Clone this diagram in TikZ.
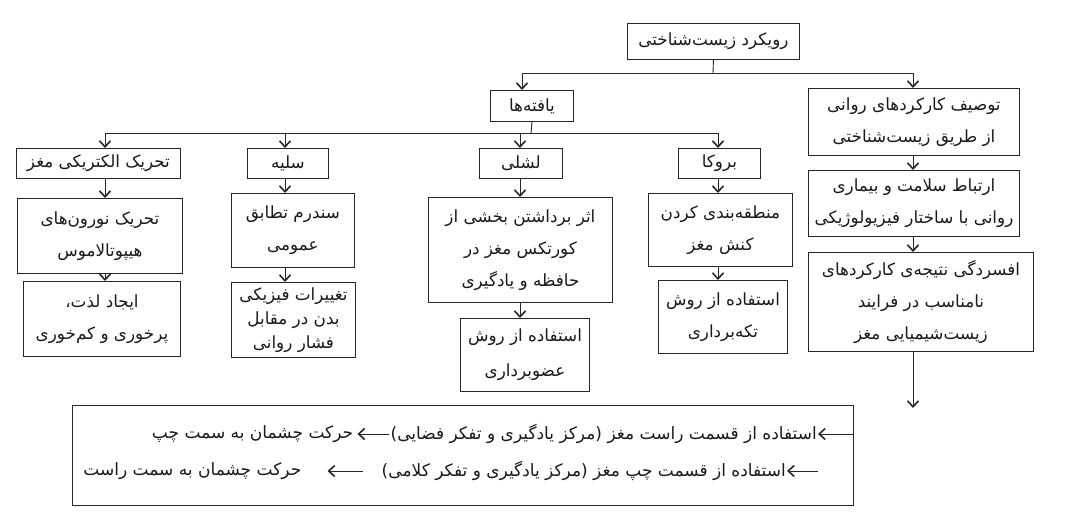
\documentclass[tikz,border=0pt]{standalone}
\usepackage{fontspec}
\newfontfamily\arabicfont[Script=Arabic]{DejaVu Sans}
\TeXXeTstate=1
\usetikzlibrary{arrows.meta}
\newcommand\fa[1]{\beginR #1\endR}
\definecolor{linec}{HTML}{262626}
\definecolor{txtc}{HTML}{1A1A1A}
\begin{document}
\begin{tikzpicture}[x=1pt,y=-1pt,
  box/.style={draw=linec, line width=0.9pt, font=\arabicfont\fontsize{16.8}{32}\selectfont,
    align=center, inner sep=0pt, anchor=north west, text=txtc},
  arr/.style={draw=linec, line width=0.9pt, -{Straight Barb[length=6pt,width=11pt,line width=1.6pt]}},
  conn/.style={draw=linec, line width=0.9pt},
  ln/.style={font=\arabicfont\fontsize{17}{18}\selectfont, inner sep=1pt, text=txtc}]
\fill[white] (0,0) rectangle (1084,527);
\useasboundingbox (0,0) rectangle (1084,527);
% columns
\coordinate (cA) at (105,0);
\coordinate (cB) at (285,0);
\coordinate (cC) at (520,0);
\coordinate (cD) at (718,0);
\coordinate (cE) at (913,0);
\coordinate (cY) at (522,0);
% boxes
\node[box,minimum width=172pt,minimum height=36pt] (root) at (627,23) {\fa{رویکرد زیست‌شناختی}};
\node[box,minimum width=211pt,minimum height=67pt] (desc) at (808,88) {\fa{توصیف کارکردهای روانی}\\\fa{از طریق زیست‌شناختی}};
\node[box,minimum width=83pt,minimum height=31pt] (yafte) at (490,90) {\fa{یافته‌ها}};
\node[box,minimum width=164pt,minimum height=30pt] (elec) at (16,148) {\fa{تحریک الکتریکی مغز}};
\node[box,minimum width=81pt,minimum height=30pt] (salye) at (247,148) {\fa{سلیه}};
\node[box,minimum width=83pt,minimum height=30pt] (lash) at (479,148) {\fa{لشلی}};
\node[box,minimum width=82pt,minimum height=30pt] (broca) at (678,148) {\fa{بروکا}};
\node[box,minimum width=165pt,minimum height=75pt] (hypo) at (17,198) {\fa{تحریک نورون‌های}\\\fa{هیپوتالاموس}};
\node[box,minimum width=157pt,minimum height=75pt] (pleas) at (23,281) {\fa{ایجاد لذت،}\\\fa{پرخوری و کم‌خوری}};
\node[box,minimum width=123pt,minimum height=74pt] (gas) at (231,193) {\fa{سندرم تطابق}\\\fa{عمومی}};
\node[box,minimum width=124pt,minimum height=75pt,font=\arabicfont\fontsize{16.8}{24}\selectfont] (phys) at (231,282) {\fa{تغییرات فیزیکی}\\\fa{بدن در مقابل}\\\fa{فشار روانی}};
\node[box,minimum width=184pt,minimum height=105pt] (remove) at (428,197) {\fa{اثر برداشتن بخشی از}\\\fa{کورتکس مغز در}\\\fa{حافظه و یادگیری}};
\node[box,minimum width=129pt,minimum height=73pt,font=\arabicfont\fontsize{16.8}{35}\selectfont] (organ) at (460,318) {\fa{استفاده از روش}\\\fa{عضوبرداری}};
\node[box,minimum width=144pt,minimum height=73pt] (zone) at (648,193) {\fa{منطقه‌بندی کردن}\\\fa{کنش مغز}};
\node[box,minimum width=129pt,minimum height=73pt] (piece) at (658,280) {\fa{استفاده از روش}\\\fa{تکه‌برداری}};
\node[box,minimum width=211pt,minimum height=66pt] (health) at (808,170) {\fa{ارتباط سلامت و بیماری}\\\fa{روانی با ساختار فیزیولوژیکی}};
\node[box,minimum width=225pt,minimum height=99pt] (depr) at (808,252) {\fa{افسردگی نتیجه‌ی کارکردهای}\\\fa{نامناسب در فرایند}\\\fa{زیست‌شیمیایی مغز}};
\node[box,minimum width=781pt,minimum height=100pt] (bottom) at (72,405) {};
\coordinate (endE) at (913,408);
% top level connectors
\coordinate (b1) at (713,73);
\draw[conn] (root.south) -- (b1);
\draw[arr] (b1) -| (desc.north -| cE);
\draw[arr] (b1) -| (yafte.north -| cY);
% second level
\coordinate (b2) at (531,133);
\draw[conn] (yafte.south) -- (b2);
\draw[arr] (b2) -| (elec.north -| cA);
\draw[arr] (b2) -| (salye.north -| cB);
\draw[arr] (b2) -| (lash.north -| cC);
\draw[arr] (b2) -| (broca.north -| cD);
% vertical chains
\draw[arr] (elec.south -| cA) -- (hypo.north -| cA);
\draw[arr] (hypo.south -| cA) -- (pleas.north -| cA);
\draw[arr] (salye.south -| cB) -- (gas.north -| cB);
\draw[arr] (gas.south -| cB) -- (phys.north -| cB);
\draw[arr] (lash.south -| cC) -- (remove.north -| cC);
\draw[arr] (remove.south -| cC) -- (organ.north -| cC);
\draw[arr] (broca.south -| cD) -- (zone.north -| cD);
\draw[arr] (zone.south -| cD) -- (piece.north -| cD);
\draw[arr] (desc.south -| cE) -- (health.north -| cE);
\draw[arr] (health.south -| cE) -- (depr.north -| cE);
\draw[arr] (depr.south -| cE) -- (endE);
% bottom box text
\coordinate (e1) at (853,434);
\node[ln,anchor=east] (t1a) at (818,434) {\fa{استفاده از قسمت راست مغز (مرکز یادگیری و تفکر فضایی)}};
\draw[arr] (e1) -- (t1a.east);
\node[ln,anchor=east] (t1b) at ([xshift=-35pt]t1a.west) {\fa{حرکت چشمان به سمت چپ}};
\draw[arr,shorten >=3pt] (t1a.west) -- (t1b.east);
\coordinate (e2) at (818,471);
\node[ln,anchor=east] (t2a) at (787,471) {\fa{استفاده از قسمت چپ مغز (مرکز یادگیری و تفکر کلامی)}};
\draw[arr] (e2) -- (t2a.east);
\node[ln,anchor=east] (t2b) at ([xshift=-78pt]t2a.west) {\fa{حرکت چشمان به سمت راست}};
\draw[arr,shorten <=18pt,shorten >=25pt] (t2a.west) -- (t2b.east);
\end{tikzpicture}
\end{document}
